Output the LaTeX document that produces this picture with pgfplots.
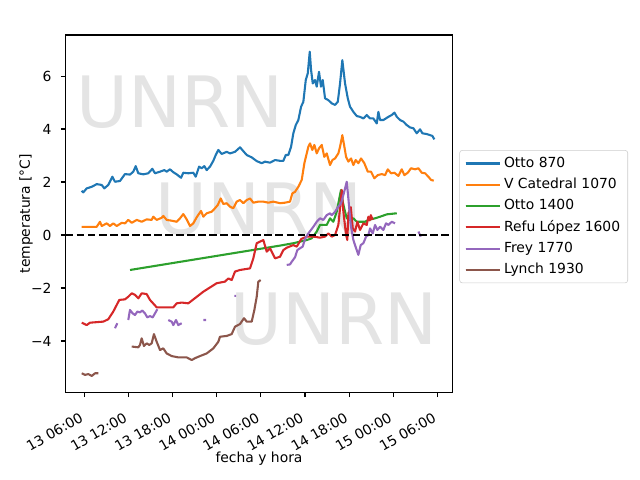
\documentclass[border=0pt]{standalone}
\usepackage{pgfplots}
\pgfplotsset{compat=1.18}
\usepackage{fontspec}
\setmainfont{DejaVu Sans}
\definecolor{c1}{HTML}{1F77B4}
\definecolor{c2}{HTML}{FF7F0E}
\definecolor{c3}{HTML}{2CA02C}
\definecolor{c4}{HTML}{D62728}
\definecolor{c5}{HTML}{9467BD}
\definecolor{c6}{HTML}{8C564B}
\definecolor{wm}{RGB}{228,228,228}
\begin{document}
\begin{tikzpicture}
\begin{axis}[
  at={(47.3pt,63.1pt)}, anchor=south west,
  scale only axis, width=278.4pt, height=257.3pt,
  xmin=3.47, xmax=56.04, ymin=-5.94, ymax=7.55,
  xtick={6,12,...,54},
  xticklabels={13 06:00,13 12:00,13 18:00,14 00:00,14 06:00,14 12:00,14 18:00,15 00:00,15 06:00},
  ytick={-4,-2,0,2,4,6},
  yticklabels={−4,−2,0,2,4,6},
  tick align=outside, major tick length=3.5pt,
  tick style={line width=0.8pt, black},
  xtick pos=bottom, ytick pos=left,
  axis line style={line width=0.8pt},
  tick label style={font=\fontsize{10}{12}\selectfont},
  xticklabel style={xshift=-3.9pt, yshift=-10.2pt, rotate=30, anchor=north east, inner sep=0pt},
  yticklabel style={anchor=east, inner sep=0pt, xshift=-6.5pt},
  xlabel={fecha y hora}, ylabel={temperatura [°C]},
  label style={font=\fontsize{10}{12}\selectfont},
  xlabel style={at={(axis description cs:0.5,-0.196)}, anchor=base},
  ylabel style={at={(axis description cs:-0.1027,0.5)}, anchor=center},
  unbounded coords=jump,
  every axis plot/.append style={line width=1.5pt, line join=round},
  legend cell align=left,
  legend style={at={(axis description cs:1.018,0.678)}, anchor=north west,
    draw=black!20, rounded corners=2pt, fill=white,
    font=\fontsize{10}{12}\selectfont, inner xsep=3.5pt, inner ysep=3pt,
    row sep=2.2pt},
  legend image code/.code={\draw[#1] (0pt,0pt) -- (21.6pt,0pt); \path (0pt,0pt) -- (25pt,0pt);},
]
\node[anchor=base west, inner sep=0pt, text=wm, font=\fontsize{51}{60}\selectfont] at (axis description cs:0.027,0.7425) {UNRN};
\node[anchor=base west, inner sep=0pt, text=wm, font=\fontsize{51}{60}\selectfont] at (axis description cs:0.231,0.443) {UNRN};
\node[anchor=base west, inner sep=0pt, text=wm, font=\fontsize{51}{60}\selectfont] at (axis description cs:0.425,0.133) {UNRN};
\node[anchor=base, inner sep=0pt, font=\fontsize{12}{14}\selectfont] at (axis description cs:0.5,1.0233) {Sat 15/Aug - 5:41AM};

\addplot[c1] coordinates {
(5.65,1.67)(5.86,1.61)(6.33,1.76)(7.01,1.82)(7.69,1.92)(8.37,1.89)(8.72,1.76)(9.26,1.89)
(9.81,2.20)(10.17,2.01)(10.85,2.04)(11.53,2.30)(12.21,2.28)(12.66,2.39)(12.99,2.60)(13.34,2.33)
(14.02,2.29)(14.70,2.33)(15.25,2.50)(15.61,2.33)(16.29,2.39)(16.88,2.45)(17.20,2.39)(17.65,2.48)
(18.10,2.37)(18.56,2.29)(19.15,2.16)(19.46,2.35)(20.14,2.33)(20.82,2.35)(21.15,2.20)(21.60,2.58)
(21.96,2.52)(22.32,2.60)(22.64,2.45)(23.09,2.58)(23.54,2.80)(23.87,3.02)(24.22,3.21)(24.68,3.06)
(25.36,3.14)(25.81,3.08)(26.49,3.14)(27.17,3.31)(27.48,3.21)(28.08,3.02)(28.76,2.93)(29.44,2.79)
(30.12,2.71)(30.57,2.77)(31.25,2.73)(31.93,2.83)(32.61,2.80)(33.06,2.80)(33.39,3.02)(33.74,3.02)
(34.11,3.33)(34.42,3.84)(34.75,4.15)(35.10,4.34)(35.47,4.84)(35.78,5.03)(36.11,5.85)(36.38,6.10)
(36.65,6.92)(36.83,6.23)(37.06,5.72)(37.37,5.85)(37.60,5.60)(37.91,6.16)(38.18,5.60)(38.42,5.85)
(38.73,5.16)(39.18,5.09)(39.64,4.97)(40.09,4.91)(40.46,5.03)(40.77,5.72)(41.08,6.60)(41.45,5.72)
(41.82,5.16)(42.13,4.84)(42.58,4.65)(43.04,4.49)(43.49,4.46)(43.94,4.40)(44.40,4.53)(44.85,4.40)
(45.30,4.40)(45.76,4.21)(45.98,4.65)(46.21,4.34)(46.66,4.34)(47.34,4.46)(47.80,4.53)(48.16,4.62)
(48.49,4.46)(48.93,4.34)(49.38,4.28)(49.84,4.15)(50.29,4.06)(50.74,4.03)(51.20,3.84)(51.65,3.99)
(51.96,3.84)(52.56,3.81)(53.01,3.77)(53.32,3.74)(53.59,3.61)
};
\addlegendentry{Otto 870}

\addplot[c2] coordinates {
(5.65,0.31)(7.69,0.31)(8.13,0.50)(8.37,0.34)(9.05,0.44)(9.49,0.34)(9.94,0.44)(10.41,0.34)
(11.09,0.46)(11.53,0.44)(11.98,0.57)(12.45,0.46)(13.13,0.57)(13.80,0.50)(14.48,0.59)(15.16,0.57)
(15.38,0.69)(15.84,0.57)(16.52,0.65)(16.74,0.72)(17.20,0.57)(17.88,0.54)(18.56,0.50)(19.01,0.63)
(19.46,0.79)(19.92,0.59)(20.37,0.34)(20.82,0.44)(21.28,0.67)(21.87,0.91)(22.18,0.69)(22.64,0.82)
(23.32,0.88)(23.77,1.01)(24.14,1.13)(24.55,1.38)(24.90,1.17)(25.36,1.20)(25.81,1.07)(26.26,1.01)
(26.72,1.26)(27.17,1.32)(27.62,1.20)(28.08,1.32)(28.53,1.38)(28.98,1.22)(29.66,1.26)(30.34,1.26)
(31.02,1.22)(31.70,1.26)(32.61,1.20)(33.29,1.22)(33.97,1.26)(34.28,1.57)(34.65,1.63)(35.10,1.82)
(35.56,2.08)(35.92,2.71)(36.24,3.08)(36.46,3.33)(36.69,3.46)(37.00,3.21)(37.28,3.40)(37.60,3.08)
(37.91,3.27)(38.28,3.40)(38.63,2.95)(38.96,3.08)(39.41,2.64)(39.73,2.83)(40.09,2.89)(40.54,3.08)
(40.77,3.33)(41.08,3.77)(41.36,3.33)(41.59,2.95)(41.90,2.77)(42.27,2.89)(42.58,2.64)(42.90,2.83)
(43.26,2.71)(43.63,2.89)(44.07,2.71)(44.54,2.39)(44.98,2.39)(45.43,2.14)(45.89,2.26)(46.44,2.30)
(46.89,2.26)(47.26,2.48)(47.70,2.33)(48.16,2.35)(48.70,2.23)(49.16,2.48)(49.51,2.26)(49.98,2.35)
(50.42,2.52)(50.97,2.48)(51.42,2.52)(51.88,2.35)(52.33,2.33)(52.78,2.20)(53.14,2.08)(53.51,2.05)
};
\addlegendentry{V Catedral 1070}

\addplot[c3] coordinates {
(12.22,-1.32)(32.61,-0.40)(34.42,-0.31)(36.24,-0.19)(36.90,-0.13)(37.60,0.13)(38.05,0.38)
(38.96,0.38)(39.41,0.63)(39.86,0.50)(40.32,0.88)(40.67,1.38)(40.90,1.70)(41.13,1.26)(41.45,0.88)
(41.68,0.63)(42.13,0.57)(42.58,0.63)(43.04,0.50)(43.49,0.50)(44.17,0.50)(44.62,0.57)(45.53,0.63)
(46.21,0.69)(47.12,0.78)(48.48,0.82)
};
\addlegendentry{Otto 1400}

\addplot[c4] coordinates {
(5.65,-3.31)(6.33,-3.40)(6.77,-3.31)(8.58,-3.27)(9.26,-3.18)(9.94,-2.89)(10.76,-2.45)(11.53,-2.43)
(11.98,-2.33)(12.45,-2.20)(12.89,-2.26)(13.34,-2.39)(13.80,-2.20)(14.48,-2.23)(14.93,-2.45)(15.84,-2.73)
(18.10,-2.73)(18.56,-2.58)(19.24,-2.55)(20.14,-2.58)(22.18,-2.14)(24.00,-1.82)(25.13,-1.76)(25.58,-1.64)
(26.04,-1.70)(26.49,-1.38)(27.17,-1.32)(28.53,-1.26)(28.98,-0.88)(29.44,-0.31)(29.89,-0.25)(30.34,-0.19)
(30.80,-0.63)(31.25,-0.50)(31.93,-0.88)(32.61,-0.82)(33.06,-0.57)(33.52,-0.48)(34.42,-0.38)(34.88,-0.44)
(35.50,-0.15)(36.24,-0.06)(37.14,-0.06)(38.05,-0.10)(38.73,-0.06)(39.18,0.06)(39.64,-0.06)(40.09,0.00)
(40.54,0.38)(40.77,1.01)(41.00,1.70)(41.22,0.88)(41.59,0.00)(41.76,-0.19)(41.90,0.82)(42.23,1.05)
(42.50,0.25)(42.81,0.13)(43.12,0.50)(43.49,0.19)(43.94,0.44)(44.40,0.38)(44.62,0.69)(44.80,0.55)
(44.95,0.75)(45.21,0.57)
};
\addlegendentry{Refu López 1600}

\addplot[c5] coordinates {
(10.17,-3.52)(10.49,-3.33)(10.6,nan)
(11.98,-3.21)(12.21,-2.83)(12.58,-2.96)(12.89,-3.02)(13.21,-2.89)(13.57,-2.92)(13.89,-2.85)(14.25,-2.96)
(14.57,-3.11)(14.93,-3.06)(15.30,-3.11)(15.61,-2.96)(15.93,-2.80)(16.5,nan)
(17.42,-3.21)(17.88,-3.27)(18.10,-3.40)(18.47,-3.21)(18.78,-3.40)(19.24,-3.33)(20,nan)
(22.18,-3.21)(22.55,-3.21)(23,nan)
(26.40,-2.30)(26.63,-2.30)(27,nan)
(33.52,-1.13)(33.97,-1.11)(34.20,-1.01)(34.65,-0.84)(34.96,-0.57)(35.33,-0.50)(35.69,-0.44)(36.01,-0.15)
(36.46,0.06)(37.14,0.31)(37.60,0.50)(38.05,0.63)(38.50,0.57)(38.96,0.75)(39.41,0.82)(39.64,0.75)
(40.09,0.88)(40.54,1.07)(40.91,1.20)(41.22,1.51)(41.68,2.01)(41.90,1.38)(42.22,0.38)(42.58,-0.19)
(42.95,-0.50)(43.26,-0.75)(43.58,-0.38)(43.94,-0.31)(44.31,-0.06)(44.62,0.00)(44.85,0.25)(45.21,0.06)
(45.53,0.38)(45.84,0.19)(46.21,0.31)(46.66,0.19)(47.02,0.44)(47.35,0.38)(47.80,0.50)(48.25,0.44)(49,nan)
(51.42,0.13)(51.75,-0.06)
};
\addlegendentry{Frey 1770}

\addplot[c6] coordinates {
(5.65,-5.22)(6.10,-5.28)(6.55,-5.25)(7.01,-5.32)(7.46,-5.22)(7.90,-5.22)(9,nan)
(12.45,-4.21)(13.34,-4.24)(13.57,-4.15)(13.80,-3.90)(14.11,-4.19)(14.48,-4.09)(14.83,-4.15)(15.16,-4.09)
(15.47,-3.74)(15.84,-4.03)(16.29,-4.34)(16.74,-4.28)(17.20,-4.47)(17.88,-4.57)(18.78,-4.62)(19.92,-4.62)
(20.60,-4.72)(21.05,-4.65)(21.73,-4.57)(22.64,-4.47)(23.54,-4.28)(24.22,-4.03)(24.45,-3.84)(25.36,-3.81)
(26.04,-3.74)(26.49,-3.46)(27.17,-3.36)(27.71,-3.14)(28.08,-3.27)(28.76,-3.27)(29.12,-2.83)(29.44,-2.33)
(29.66,-1.76)(29.98,-1.70)
};
\addlegendentry{Lynch 1930}

\addplot[black, line width=1.5pt, dash pattern=on 5.55pt off 2.4pt, forget plot] coordinates {(3.47,0) (56.04,0)};
\end{axis}
\pgfresetboundingbox
\useasboundingbox (0,0) rectangle (460.8pt,345.6pt);
\end{tikzpicture}
\end{document}
